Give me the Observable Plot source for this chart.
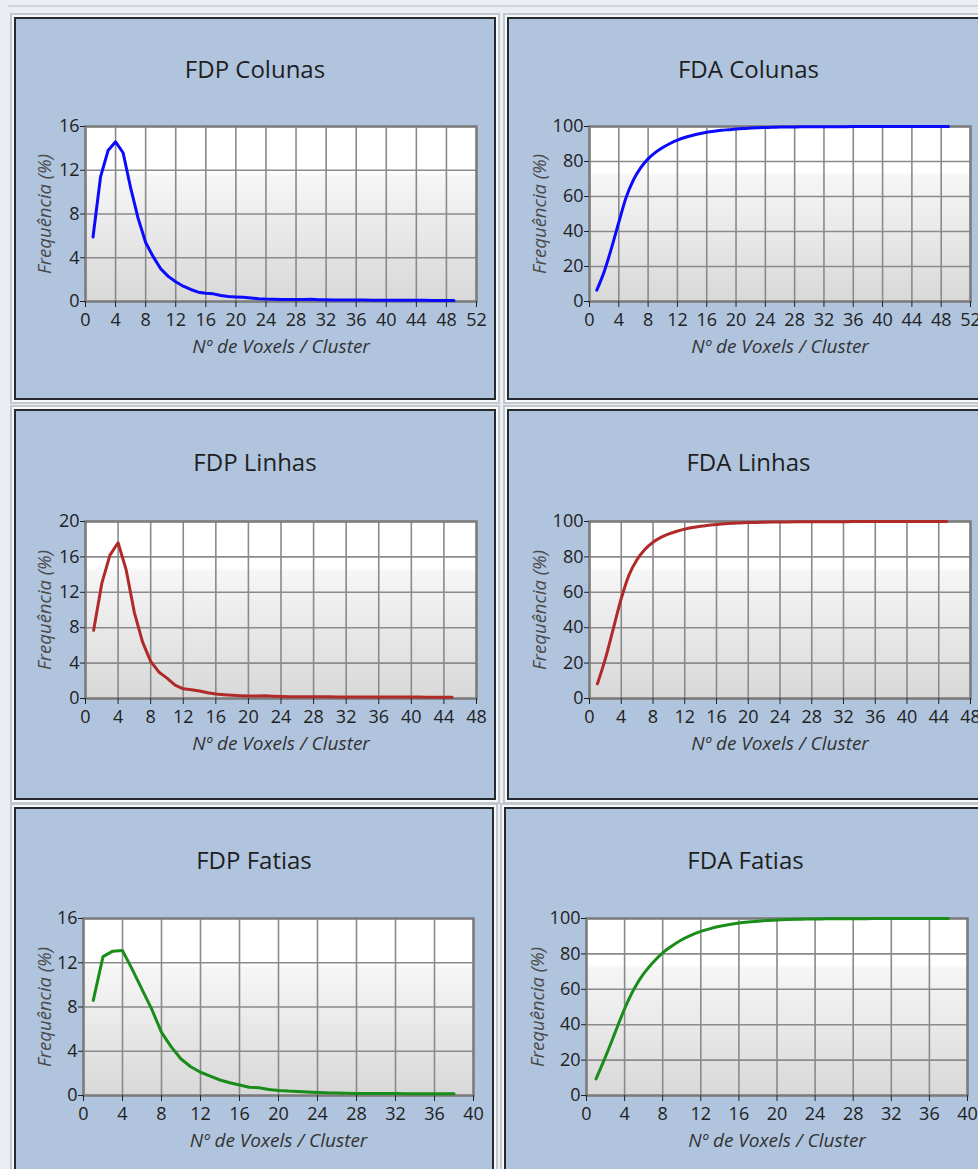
<!DOCTYPE html>
<html><head><meta charset="utf-8">
<script src="https://cdn.jsdelivr.net/npm/d3@7"></script>
<script src="https://cdn.jsdelivr.net/npm/@observablehq/plot@0.6"></script>
<style>
html,body{margin:0;padding:0;}
body{width:978px;height:1169px;overflow:hidden;background:#eaeef2;font-family:"Open Sans",sans-serif;}
#root{position:relative;width:978px;height:1169px;overflow:hidden;}
.topline{position:absolute;left:8px;right:0;top:5px;height:2px;background:#cfd4d9;}
.panel{position:absolute;box-sizing:border-box;border:2px solid #262a2e;background:#b0c4de;box-shadow:0 0 0 2px #f7f8fa,0 0 0 4px #c2c7cd;}
.title{position:absolute;left:0;right:0;text-align:center;font-size:24px;line-height:30px;color:#1f1f1f;}
.chart{position:absolute;}
</style>
</head><body><div id="root"><div class="topline"></div></div>
<script>
// ---- data ----
const colunasX = [1,2,3,4,5,6,7,8,9,10,11,12,13,14,15,16,17,18,19,20,21,22,23,24,25,26,27,28,29,30,31,32,33,34,35,36,37,38,39,40,41,42,43,44,45,46,47,48,49];
const fdpColunas = [5.9,11.4,13.8,14.6,13.6,10.4,7.6,5.4,4.1,3.0,2.3,1.8,1.4,1.1,0.85,0.75,0.7,0.55,0.45,0.42,0.38,0.32,0.26,0.22,0.2,0.19,0.18,0.18,0.18,0.2,0.17,0.15,0.14,0.14,0.13,0.13,0.13,0.12,0.12,0.12,0.12,0.11,0.11,0.11,0.11,0.1,0.1,0.1,0.1];
const fdaColunas = [6.5,17,30.5,45.3,59.5,69.5,76.5,81.5,85.2,88,90.3,92.2,93.7,94.9,95.9,96.7,97.3,97.8,98.2,98.6,98.9,99.1,99.3,99.45,99.55,99.65,99.7,99.75,99.8,99.83,99.86,99.88,99.9,99.91,99.92,99.93,99.94,99.95,99.96,99.96,99.97,99.97,99.98,99.98,99.99,99.99,99.99,100,100];

const linhasX = [1,2,3,4,5,6,7,8,9,10,11,12,13,14,15,16,17,18,19,20,21,22,23,24,25,26,27,28,29,30,31,32,33,34,35,36,37,38,39,40,41,42,43,44,45];
const fdpLinhas = [7.7,13.0,16.2,17.6,14.5,9.7,6.4,4.2,3.0,2.3,1.5,1.1,0.98,0.85,0.65,0.5,0.42,0.36,0.32,0.28,0.28,0.3,0.25,0.22,0.21,0.2,0.2,0.19,0.19,0.19,0.18,0.18,0.18,0.17,0.17,0.17,0.17,0.16,0.16,0.16,0.16,0.15,0.15,0.15,0.15];
const fdaLinhas = [8.3,22.5,39.5,56.5,70,78.5,84.3,88.3,91,93,94.5,95.7,96.6,97.3,97.9,98.3,98.7,99,99.2,99.4,99.5,99.6,99.67,99.72,99.77,99.8,99.83,99.86,99.88,99.9,99.91,99.92,99.93,99.94,99.95,99.96,99.96,99.97,99.97,99.98,99.98,99.99,99.99,100,100];

const fatiasX = [1,2,3,4,5,6,7,8,9,10,11,12,13,14,15,16,17,18,19,20,21,22,23,24,25,26,27,28,29,30,31,32,33,34,35,36,37,38];
const fdpFatias = [8.6,12.55,13.05,13.1,11.4,9.6,7.8,5.7,4.4,3.3,2.6,2.1,1.75,1.4,1.15,0.95,0.75,0.7,0.55,0.45,0.4,0.37,0.32,0.28,0.24,0.22,0.2,0.19,0.18,0.18,0.17,0.17,0.16,0.16,0.16,0.15,0.15,0.15];
const fdaFatias = [9.4,22,35.5,49,60.3,68.8,75.3,80.6,84.6,88,90.6,92.7,94.3,95.6,96.6,97.4,98,98.5,98.9,99.2,99.4,99.55,99.65,99.75,99.8,99.85,99.88,99.9,99.92,99.94,99.95,99.96,99.97,99.98,99.98,99.99,100,100];

const ticks52 = [0,4,8,12,16,20,24,28,32,36,40,44,48,52];
const ticks48 = [0,4,8,12,16,20,24,28,32,36,40,44,48];
const ticks40 = [0,4,8,12,16,20,24,28,32,36,40];
const ticks16 = [0,4,8,12,16];
const ticks20 = [0,4,8,12,16,20];
const ticks100 = [0,20,40,60,80,100];

const titles = ["FDP Colunas","FDA Colunas","FDP Linhas","FDA Linhas","FDP Fatias","FDA Fatias"];
const xLabel = "Nº de Voxels / Cluster";
const yLabel = "Frequência (%)";

// ---- layout ----
const blue = "#0a0aff", red = "#b02a2a", green = "#1a8c1a";
const panels = [
  {title:titles[0], box:[14,17,482,383], titleTop:35, plot:[85,126,476,301], xs:colunasX, ys:fdpColunas, xd:[0,52], xt:ticks52, yd:[0,16], yt:ticks16, color:blue, ydx:-40, curve:"linear"},
  {title:titles[1], box:[507,17,483,383], titleTop:35, plot:[589,126,970,301], xs:colunasX, ys:fdaColunas, xd:[0,52], xt:ticks52, yd:[0,100], yt:ticks100, color:blue, ydx:-49, curve:"monotone-x"},
  {title:titles[2], box:[14,409,482,391], titleTop:36, plot:[85,521,476,698], xs:linhasX, ys:fdpLinhas, xd:[0,48], xt:ticks48, yd:[0,20], yt:ticks20, color:red, ydx:-40, curve:"linear"},
  {title:titles[3], box:[507,409,483,391], titleTop:36, plot:[589,521,970,698], xs:linhasX, ys:fdaLinhas, xd:[0,48], xt:ticks48, yd:[0,100], yt:ticks100, color:red, ydx:-49, curve:"monotone-x"},
  {title:titles[4], box:[14,807,480,400], titleTop:36, plot:[83,918,473,1095], xs:fatiasX, ys:fdpFatias, xd:[0,40], xt:ticks40, yd:[0,16], yt:ticks16, color:green, ydx:-38, curve:"linear"},
  {title:titles[5], box:[504,807,483,400], titleTop:36, plot:[586,918,967,1095], xs:fatiasX, ys:fdaFatias, xd:[0,40], xt:ticks40, yd:[0,100], yt:ticks100, color:green, ydx:-48, curve:"monotone-x"}
];

const root = document.getElementById("root");
const mL = 75, mT = 15, mR = 25, mB = 60;

panels.forEach((p, k) => {
  const [bx, by, bw, bh] = p.box;
  const pd = document.createElement("div");
  pd.className = "panel";
  Object.assign(pd.style, {left: bx + "px", top: by + "px", width: bw + "px", height: bh + "px"});
  const t = document.createElement("div");
  t.className = "title";
  t.style.top = p.titleTop + "px";
  t.textContent = p.title;
  pd.appendChild(t);
  root.appendChild(pd);
});

panels.forEach((p, k) => {
  const [px0, py0, px1, py1] = p.plot;
  const data = p.xs.map((x, i) => ({x, y: p.ys[i]}));
  const gid = "bggrad" + k;
  const svg = Plot.plot({
    width: px1 - px0 + mL + mR,
    height: py1 - py0 + mT + mB,
    marginLeft: mL, marginTop: mT, marginRight: mR, marginBottom: mB,
    style: {background: "transparent", overflow: "visible", fontFamily: "'Open Sans', sans-serif", color: "#222", maxWidth: "none"},
    x: {domain: p.xd},
    y: {domain: p.yd},
    marks: [
      Plot.frame({fill: `url(#${gid})`, stroke: "none"}),
      Plot.gridX(p.xt, {stroke: "#8a8a8a", strokeOpacity: 1, strokeWidth: 1.6}),
      Plot.gridY(p.yt, {stroke: "#8a8a8a", strokeOpacity: 1, strokeWidth: 1.6}),
      Plot.frame({stroke: "#7c7c7c", strokeWidth: 2.5}),
      Plot.axisX(p.xt, {tickSize: 6, tickPadding: 6, fontSize: 18, label: null, tickFormat: d => String(d)}),
      Plot.axisY(p.yt, {tickSize: 5, tickPadding: 1, fontSize: 18, label: null, tickFormat: d => String(d)}),
      Plot.line(data, {x: "x", y: "y", stroke: p.color, strokeWidth: 3, curve: p.curve}),
      Plot.text([xLabel], {frameAnchor: "bottom", dy: 51, text: d => d, textAnchor: "middle", fontStyle: "italic", fontSize: 19, fill: "#333"}),
      Plot.text([yLabel], {frameAnchor: "left", dx: p.ydx, rotate: -90, text: d => d, textAnchor: "middle", fontStyle: "italic", fontSize: 18.5, fill: "#4a4a4a"})
    ]
  });
  const defs = d3.select(svg).insert("defs", ":first-child");
  const lg = defs.append("linearGradient").attr("id", gid).attr("x1", 0).attr("y1", 0).attr("x2", 0).attr("y2", 1);
  [["0", "#ffffff"], ["0.26", "#ffffff"], ["0.28", "#f6f6f6"], ["1", "#d8d8d8"]].forEach(([o, c]) =>
    lg.append("stop").attr("offset", o).attr("stop-color", c));
  const wrap = document.createElement("div");
  wrap.className = "chart";
  wrap.style.left = (px0 - mL) + "px";
  wrap.style.top = (py0 - mT) + "px";
  wrap.appendChild(svg);
  root.appendChild(wrap);
});
</script>
</body></html>
